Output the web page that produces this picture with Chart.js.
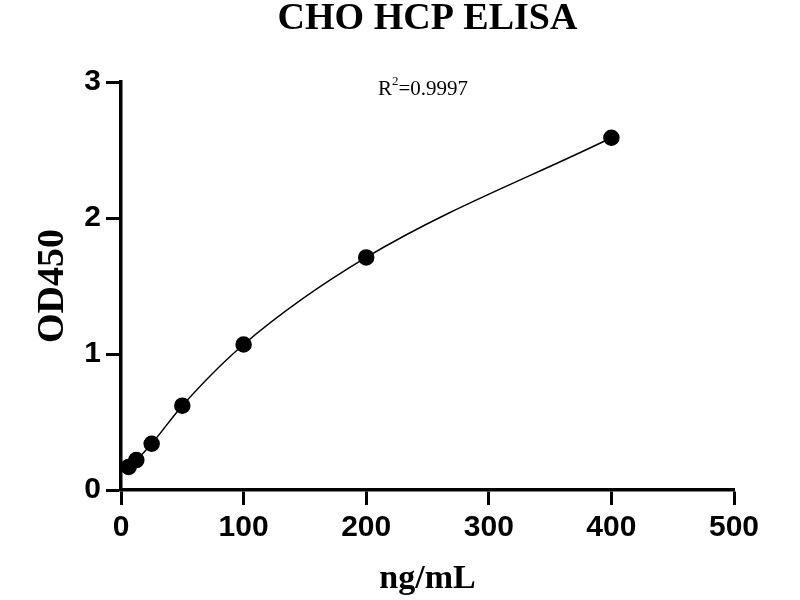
<!DOCTYPE html>
<html>
<head>
<meta charset="utf-8">
<script src="https://cdn.jsdelivr.net/npm/chart.js@4"></script>
<style>
  html, body { margin: 0; padding: 0; background: #fff; }
  #wrap { width: 800px; height: 600px; }
</style>
</head>
<body>
<div id="wrap"><canvas id="elisaChart" width="800" height="600"></canvas></div>
<script>
// standard curve data
const concentrations = [6.25, 12.5, 25, 50, 100, 200, 400];
const odValues = [0.17, 0.22, 0.34, 0.62, 1.07, 1.71, 2.59];
const xTicks = [0, 100, 200, 300, 400, 500];
const yTicks = [0, 1, 2, 3];
const rSquared = '0.9997';

const points = concentrations.map((c, i) => ({ x: c, y: odValues[i] }));

// center the title over the plot area, not the whole canvas
const centerTitle = {
    id: 'centerTitle',
    afterLayout(chart) {
        const t = chart.titleBlock;
        if (t) {
            t.left = chart.chartArea.left;
            t.right = chart.chartArea.right;
            t.width = t.right - t.left;
        }
    }
};

// R² label drawn as text with a superscript
const rSquaredLabel = {
    id: 'rSquaredLabel',
    afterDraw(chart) {
        const c = chart.ctx;
        c.save();
        c.fillStyle = '#000';
        c.textBaseline = 'alphabetic';
        c.font = '21px "Liberation Serif"';
        let x = 378, y = 95;
        c.fillText('R', x, y);
        x += c.measureText('R').width;
        c.font = '13px "Liberation Serif"';
        c.fillText('2', x, y - 10);
        x += c.measureText('2').width;
        c.font = '21px "Liberation Serif"';
        c.fillText('=' + rSquared, x, y);
        c.restore();
    }
};

const ctx = document.getElementById('elisaChart').getContext('2d');

new Chart(ctx, {
    type: 'line',
    data: {
        datasets: [{
            data: points,
            borderColor: '#000',
            backgroundColor: '#000',
            borderWidth: 1.5,
            pointRadius: 7.5,
            pointHoverRadius: 7.5,
            pointBackgroundColor: '#000',
            pointBorderColor: '#000',
            cubicInterpolationMode: 'monotone',
            clip: false
        }]
    },
    options: {
        responsive: false,
        animation: false,
        devicePixelRatio: 1,
        layout: { padding: { left: 0, right: 66, top: 0, bottom: 0 } },
        plugins: {
            legend: { display: false },
            tooltip: { enabled: false },
            title: {
                display: true,
                text: 'CHO HCP ELISA',
                color: '#000',
                font: { family: 'Liberation Serif', size: 38, weight: 'bold', lineHeight: 1 },
                padding: { top: 0, bottom: 44 }
            }
        },
        scales: {
            x: {
                type: 'linear',
                min: 0,
                max: 500,
                afterBuildTicks: s => { s.ticks = xTicks.map(v => ({ value: v })); },
                afterFit: s => { s.height = 110; },
                border: { color: '#000', width: 3.5 },
                grid: { drawOnChartArea: false, tickLength: 15, tickWidth: 3, tickColor: '#000' },
                ticks: {
                    color: '#000',
                    padding: 5,
                    font: { family: 'Liberation Sans', size: 30, weight: 'bold' }
                },
                title: {
                    display: true,
                    text: 'ng/mL',
                    color: '#000',
                    font: { family: 'Liberation Serif', size: 34, weight: 'bold', lineHeight: 1.2 },
                    padding: { top: 0, bottom: 0 }
                }
            },
            y: {
                min: 0,
                max: 3,
                afterBuildTicks: s => { s.ticks = yTicks.map(v => ({ value: v })); },
                afterFit: s => { s.width = 121; },
                border: { color: '#000', width: 3.5 },
                grid: { drawOnChartArea: false, tickLength: 15, tickWidth: 3, tickColor: '#000' },
                ticks: {
                    color: '#000',
                    padding: 5,
                    font: { family: 'Liberation Sans', size: 30, weight: 'bold' }
                },
                title: {
                    display: true,
                    text: 'OD450',
                    color: '#000',
                    font: { family: 'Liberation Serif', size: 38, weight: 'bold', lineHeight: 1.2 },
                    padding: { top: 30, bottom: 0 }
                }
            }
        }
    },
    plugins: [centerTitle, rSquaredLabel]
});
</script>
</body>
</html>
